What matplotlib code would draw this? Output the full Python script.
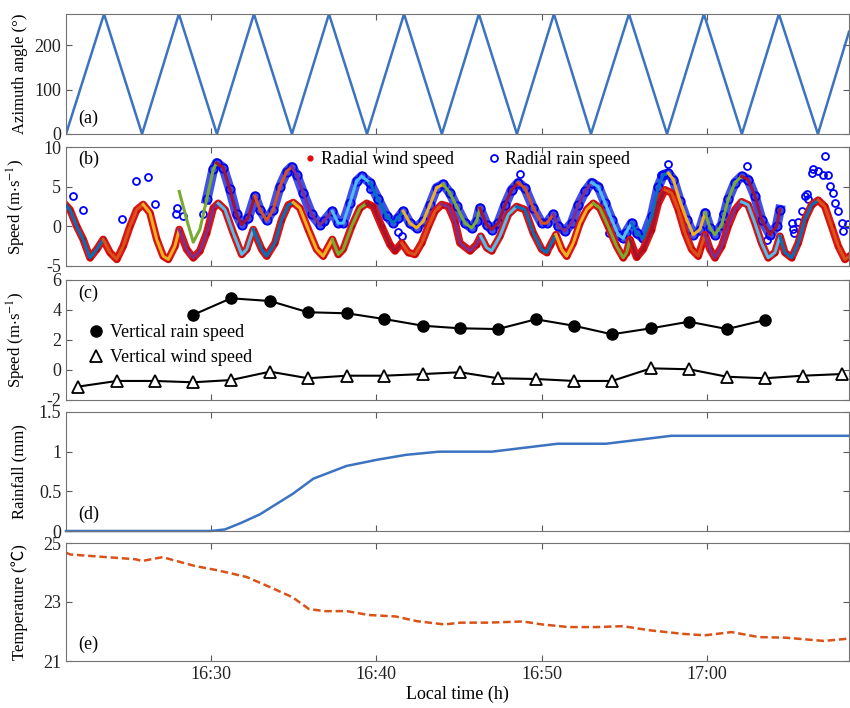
import numpy as np
import matplotlib
matplotlib.use("Agg")
import matplotlib.pyplot as plt
from matplotlib.lines import Line2D

plt.rcParams['font.family'] = ['Liberation Serif', 'Noto Sans CJK SC', 'DejaVu Sans']
plt.rcParams['mathtext.fontset'] = 'stix'
plt.rcParams['font.size'] = 13
plt.rcParams['axes.unicode_minus'] = False

# all times in minutes after 16:00
xlim = (21.23, 68.6)
tick_min = [30, 40, 50, 60]
tick_lab = ["16:30", "16:40", "16:50", "17:00"]

# (a) azimuth scan turning points
az_t = [21.23, 23.53, 25.83, 28.06, 30.36, 32.60, 34.90, 37.14, 39.44, 41.68, 43.97,
        46.21, 48.51, 50.75, 52.99, 55.29, 57.59, 59.82, 62.12, 64.36, 66.72, 68.60]
az_deg = [0, 270, 0, 270, 0, 270, 0, 270, 0, 270, 0,
          270, 0, 270, 0, 270, 0, 270, 0, 270, 0, 230]

# (b) radial wind speed
wind_t = [21.25, 21.47, 21.88, 22.27, 22.68, 23.09, 23.48, 23.89, 24.30, 24.69, 25.10,
          25.51, 25.90, 26.31, 26.72, 27.11, 27.42, 27.82, 28.08, 28.53, 28.93, 29.33,
          29.74, 30.14, 30.44, 30.85, 31.35, 31.86, 32.16, 32.56, 33.07, 33.37, 33.87,
          34.28, 34.68, 34.98, 35.38, 35.89, 36.39, 36.79, 37.34, 37.70, 38.00, 38.51,
          39.01, 39.42, 39.82, 40.33, 40.83, 41.13, 41.54, 41.94, 42.34, 42.75, 43.15,
          43.55, 43.96, 44.36, 44.76, 45.06, 45.67, 46.07, 46.32, 46.68, 46.98, 47.48,
          47.99, 48.49, 49.00, 49.50, 50.01, 50.31, 50.55, 50.87, 51.22, 51.52, 51.92,
          52.32, 52.73, 53.13, 53.53, 54.03, 54.54, 54.94, 55.15, 55.35, 55.75, 56.15,
          56.66, 57.06, 57.47, 57.87, 58.27, 58.68, 59.08, 59.48, 59.65, 59.89, 60.19,
          60.49, 60.90, 61.29, 61.70, 62.10, 62.50, 62.91, 63.31, 63.71, 64.12, 64.42,
          64.72, 65.13, 65.53, 65.93, 66.34, 66.74, 67.14, 67.55, 67.95, 68.35, 68.60]
wind_v = [2.6, 2.1, 0.0, -1.65, -3.97, -2.9, -1.65, -3.3, -4.17, -2.5, 0.0,
          2.1, 2.75, 1.7, -1.65, -3.76, -4.17, -2.5, -0.4, -2.9, -3.97, -3.1,
          -0.84, 2.3, 2.9, 2.1, -0.84, -3.55, -2.9, -0.4, -2.9, -3.76, -2.1,
          0.86, 2.7, 3.0, 2.3, -0.4, -2.9, -3.76, -1.65, -3.55, -2.9, 0.0,
          2.3, 2.9, 2.5, 0.0, -2.3, -3.1, -2.1, -3.3, -3.55, -2.1, 0.0,
          1.9, 2.75, 2.5, 0.6, -2.1, -3.1, -2.3, -1.25, -2.7, -3.1, -1.25,
          1.5, 2.5, 2.1, -0.84, -2.9, -3.3, -2.3, -1.05, -2.9, -3.76, -2.1,
          0.4, 2.1, 2.9, 2.3, 0.0, -2.5, -3.97, -3.3, -1.65, -3.9, -2.9,
          -0.4, 2.9, 4.6, 4.2, 2.1, -0.84, -2.9, -3.76, -2.6, -1.05, -2.9,
          -3.97, -2.5, 0.0, 2.1, 3.1, 2.7, 0.4, -2.1, -3.97, -3.3, -1.25,
          -3.3, -3.97, -2.1, 0.86, 2.7, 3.3, 2.5, 0.0, -2.5, -4.17, -3.8]

# (b) radial rain speed (main band)
rain_t = [28.08, 28.53, 28.93, 29.33, 29.74, 30.14, 30.34, 30.74, 31.15, 31.55, 31.86,
          32.26, 32.66, 32.96, 33.37, 33.77, 34.17, 34.58, 34.88, 35.18, 35.58, 36.09,
          36.59, 36.85, 37.34, 37.70, 38.00, 38.41, 38.81, 39.12, 39.62, 40.12, 40.63,
          41.03, 41.33, 41.63, 42.04, 42.44, 42.84, 43.25, 43.65, 44.05, 44.46, 44.86,
          45.37, 45.77, 46.07, 46.27, 46.68, 46.98, 47.38, 47.79, 48.19, 48.59, 49.00,
          49.50, 50.01, 50.31, 50.71, 51.01, 51.42, 51.82, 52.22, 52.63, 53.03, 53.43,
          53.84, 54.24, 54.64, 54.94, 55.10, 55.45, 55.75, 56.15, 56.66, 57.06, 57.36,
          57.67, 57.97, 58.37, 58.78, 59.18, 59.58, 59.89, 60.19, 60.49, 60.90, 61.29,
          61.70, 62.10, 62.50, 62.91, 63.31, 63.82, 64.22, 64.42]
rain_v = [4.4, 0.86, -2.0, -0.4, 3.4, 7.17, 8.0, 7.4, 4.65, 1.5, 0.2,
          1.1, 3.8, 2.1, 0.76, 2.1, 5.0, 6.9, 7.5, 6.5, 4.2, 1.5,
          0.2, 0.7, 1.9, 0.4, 0.4, 2.95, 5.7, 6.3, 5.5, 3.4, 1.3,
          0.4, 1.1, 1.9, 0.4, -0.2, 0.65, 2.7, 4.85, 5.3, 4.2, 2.5,
          0.4, -0.2, 0.65, 2.3, 0.2, -0.4, 0.4, 2.7, 4.6, 5.5, 4.8,
          2.3, 0.4, 0.4, 1.5, 0.0, -0.6, 0.4, 2.7, 4.4, 5.5, 5.0,
          2.95, 0.86, -1.05, -1.5, -0.8, 0.4, -0.84, -1.5, 1.3, 5.0, 6.5,
          6.7, 5.9, 3.2, 0.86, -1.05, -0.4, 1.7, -0.2, -1.05, 0.2, 3.4,
          5.5, 6.3, 5.9, 3.8, 0.86, -1.05, 0.0, 2.1]

# (b) scattered rain speed retrievals
rain_sc_t = [21.67, 22.24, 24.60, 25.46, 26.21, 26.61, 27.92, 27.88, 28.32, 29.52,
             39.62, 41.33, 41.54, 48.69, 54.10, 57.22, 57.63, 60.97, 62.41, 63.62,
             65.13, 65.51, 65.19, 65.25, 65.73, 65.93, 66.04, 66.12, 66.34, 66.44,
             66.74, 67.04, 67.31, 67.14, 67.44, 67.65, 67.75, 67.95, 68.15, 68.25, 68.53]
rain_sc_v = [3.8, 2.1, 0.95, 5.7, 6.2, 2.85, 2.3, 1.6, 1.35, 1.5,
             4.65, -0.7, -1.2, 6.6, -0.8, 6.5, 7.8, 1.55, 7.6, -1.7,
             0.44, 0.5, -0.3, -0.9, 1.9, 3.8, 4.1, 3.5, 6.7, 7.25,
             7.0, 6.5, 6.5, 8.85, 5.1, 4.2, 3.0, 1.9, 0.44, -0.6, 0.3]

# (c) vertical speeds
vw_t = [21.95, 24.31, 26.61, 28.91, 31.21, 33.57, 35.87, 38.23, 40.47, 42.83, 45.06,
        47.36, 49.66, 51.96, 54.26, 56.62, 58.92, 61.22, 63.51, 65.81, 68.17]
vw_v = [-1.11, -0.73, -0.73, -0.82, -0.67, -0.11, -0.55, -0.38, -0.38, -0.27, -0.15,
        -0.55, -0.6, -0.73, -0.73, 0.11, 0.05, -0.45, -0.55, -0.38, -0.27]
vr_t = [28.91, 31.21, 33.57, 35.87, 38.23, 40.47, 42.83, 45.06, 47.36, 49.66, 51.96,
        54.26, 56.62, 58.92, 61.22, 63.51]
vr_v = [3.67, 4.78, 4.6, 3.85, 3.78, 3.4, 2.95, 2.78, 2.73, 3.38, 2.95,
        2.38, 2.78, 3.22, 2.73, 3.33]

# (d) accumulated rainfall
rf_t = [21.23, 30.0, 30.85, 31.8, 32.96, 34.96, 36.2, 38.2, 40.1, 41.8, 43.8,
        47.0, 50.97, 53.9, 57.85, 68.6]
rf_v = [0, 0, 0.02, 0.1, 0.21, 0.47, 0.66, 0.82, 0.9, 0.96, 1.0,
        1.0, 1.1, 1.1, 1.2, 1.2]

# (e) temperature
tp_t = [21.23, 21.5, 25.43, 25.83, 27.07, 29.03, 30.35, 32.15, 33.63, 34.94, 35.93,
        36.9, 38.23, 39.53, 41.17, 42.46, 44.12, 45.11, 46.75, 48.87, 50.02, 51.66,
        53.29, 54.92, 56.56, 58.55, 59.86, 61.5, 63.14, 64.78, 67.08, 68.6]
tp_v = [24.67, 24.61, 24.45, 24.39, 24.52, 24.22, 24.08, 23.85, 23.49, 23.16, 22.76,
        22.69, 22.69, 22.56, 22.51, 22.35, 22.24, 22.3, 22.3, 22.34, 22.24, 22.15,
        22.15, 22.18, 22.04, 21.92, 21.87, 21.98, 21.81, 21.79, 21.68, 21.76]

fit_colors = ['#0072BD', '#D95319', '#EDB120', '#7E2F8E', '#77AC30', '#4DBEEE', '#A2142F']
rain_fit_segs = range(3, 19)

fig = plt.figure(figsize=(8.5, 7.08), dpi=100)
W, H = 850, 708
def add_panel(top, bottom):
    return fig.add_axes([66 / W, 1 - bottom / H, 783 / W, (bottom - top) / H])

axa = add_panel(14, 134)
axb = add_panel(147, 266)
axc = add_panel(280, 400)
axd = add_panel(412, 531)
axe = add_panel(543, 661)
axes = [axa, axb, axc, axd, axe]

for ax in axes:
    ax.set_xlim(*xlim)
    ax.set_xticks(tick_min)
    ax.tick_params(direction='in', top=True, right=True, length=4, colors='0.35',
                   labelcolor='#222222', labelsize=13)
    for sp in ax.spines.values():
        sp.set_color('0.45')
    if ax is not axe:
        ax.set_xticklabels([])
axe.set_xticklabels(tick_lab)
axe.set_xlabel("Local time (h)", fontsize=13, labelpad=2)

line_blue = '#3c73c0'
lab_fs = 12

# (a)
axa.plot(az_t, az_deg, color=line_blue, lw=1.8)
axa.set_ylim(0, 270)
axa.set_yticks([0, 100, 200])
axa.set_ylabel("Azimuth angle (°)", fontsize=lab_fs)
axa.text(0.016, 0.13, "(a)", transform=axa.transAxes, va='center')

# (b)
wt = np.array(wind_t)
wv = np.array(wind_v)
rt = np.array(rain_t)
rv = np.array(rain_v)
band = rt >= 29.7
axb.plot(rt[band], rv[band], color='#2030e8', lw=7, alpha=0.85, zorder=1)
axb.plot(rt[band], rv[band], ls='none', marker='o', mfc='none', mec='#0000ee',
         ms=6, mew=1.3, zorder=1)
axb.plot(rain_sc_t, rain_sc_v, ls='none', marker='o', mfc='none', mec='blue',
         ms=5, mew=1.3, zorder=1)
axb.plot(wt, wv, color='#d81414', lw=5.5, zorder=2)
axb.plot(wt, wv, ls='none', marker='.', color='#cc0000', ms=6, zorder=2)

ci = 0
for k in range(len(az_t) - 1):
    i0 = int(np.argmin(np.abs(wt - az_t[k])))
    i1 = int(np.argmin(np.abs(wt - az_t[k + 1])))
    axb.plot(wt[i0:i1 + 1], wv[i0:i1 + 1], color=fit_colors[ci % 7], lw=2.2, zorder=3)
    ci += 1
    if k in rain_fit_segs:
        j0 = int(np.argmin(np.abs(rt - az_t[k])))
        j1 = int(np.argmin(np.abs(rt - az_t[k + 1])))
        axb.plot(rt[j0:j1 + 1], rv[j0:j1 + 1], color=fit_colors[ci % 7], lw=2.2, zorder=3)
        ci += 1

axb.set_ylim(-5, 10)
axb.set_yticks([-5, 0, 5, 10])
axb.set_ylabel(r"Speed (m$\cdot$s$^{-1}$)", fontsize=lab_fs)
axb.text(0.016, 0.9, "(b)", transform=axb.transAxes, va='center')
hb = [Line2D([], [], ls='none', marker='.', color='#e01010', ms=7),
      Line2D([], [], ls='none', marker='o', mfc='none', mec='blue', ms=5, mew=1.3)]
axb.legend(hb, ["Radial wind speed", "Radial rain speed"], ncol=2, frameon=False,
           loc='upper left', bbox_to_anchor=(0.282, 1.10), handlelength=0.8,
           handletextpad=0.2, columnspacing=1.8, fontsize=13)

# (c)
axc.plot(vr_t, vr_v, color='black', lw=1.5, marker='o', ms=8, mfc='black')
axc.plot(vw_t, vw_v, color='black', lw=1.5, marker='^', ms=9, mfc='white', mew=1.3)
axc.set_ylim(-2, 6)
axc.set_yticks([-2, 0, 2, 4, 6])
axc.set_ylabel(r"Speed (m$\cdot$s$^{-1}$)", fontsize=lab_fs)
axc.text(0.016, 0.89, "(c)", transform=axc.transAxes, va='center')
hc = [Line2D([], [], ls='none', marker='o', color='black', ms=8),
      Line2D([], [], ls='none', marker='^', mfc='white', mec='black', ms=9, mew=1.3)]
axc.legend(hc, ["Vertical rain speed", "Vertical wind speed"], frameon=False,
           loc='upper left', bbox_to_anchor=(0.006, 0.77), handlelength=1.0,
           handletextpad=0.25, labelspacing=0.45, fontsize=13)

# (d)
axd.plot(rf_t, rf_v, color=line_blue, lw=1.8, clip_on=False)
axd.set_ylim(0, 1.5)
axd.set_yticks([0, 0.5, 1, 1.5])
axd.set_yticklabels(["0", "0.5", "1", "1.5"])
axd.set_ylabel("Rainfall (mm)", fontsize=lab_fs)
axd.text(0.016, 0.14, "(d)", transform=axd.transAxes, va='center')

# (e)
axe.plot(tp_t, tp_v, color='#D95319', lw=1.8, ls=(0, (3, 1.5)))
axe.set_ylim(21, 25)
axe.set_yticks([21, 23, 25])
axe.set_ylabel("Temperature (℃)", fontsize=lab_fs)
axe.text(0.016, 0.14, "(e)", transform=axe.transAxes, va='center')

for ax in axes:
    ax.yaxis.set_label_coords(-0.049, 0.5)

fig.savefig("out.png", dpi=100)
